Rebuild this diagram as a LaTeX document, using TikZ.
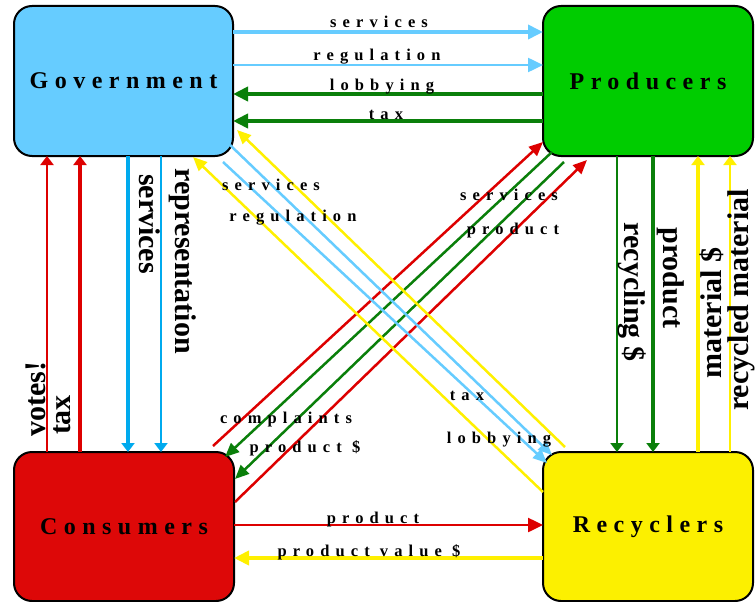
\documentclass[tikz,border=0pt]{standalone}
\usepackage{fontspec}
\setmainfont{Liberation Serif}
\newfontfamily\spacedsmall[LetterSpace=37]{Liberation Serif}
\newfontfamily\spacedbig[LetterSpace=27]{Liberation Serif}
\usetikzlibrary{arrows.meta}
\definecolor{govfill}{HTML}{66CCFF}
\definecolor{prodfill}{HTML}{00CC00}
\definecolor{consfill}{HTML}{DD0808}
\definecolor{recfill}{HTML}{FCF000}
\definecolor{lblue}{HTML}{66CCFF}
\definecolor{dblue}{HTML}{00AAEE}
\definecolor{dgreen}{HTML}{0A7F0A}
\definecolor{cred}{HTML}{DD0000}
\definecolor{cyellow}{HTML}{FFF000}
\tikzset{
  box/.style={draw=black, line width=2pt, rounded corners=18pt, inner sep=0pt, outer sep=0pt,
    font=\spacedbig\bfseries\fontsize{24}{28}\selectfont},
  lbl/.style={inner sep=0pt, anchor=base, font=\spacedsmall\bfseries\fontsize{16.5}{20}\selectfont},
  vlbl/.style={inner sep=0pt, font=\bfseries\fontsize{30}{34}\selectfont},
  fat/.style={line width=4pt},
  slim/.style={line width=2.5pt},
  diag/.style={line width=2.5pt},
  htip/.style={-{Triangle[length=15pt,width=14pt]}},
  vtip/.style={-{Triangle[length=9pt,width=13pt]}},
  dtip/.style={-{Triangle[length=14pt,width=12pt]}},
}
\begin{document}
\begin{tikzpicture}[x=1pt,y=-1pt]
\useasboundingbox (0,0) rectangle (755,602);
% boxes
\node[box, fill=govfill, minimum width=219pt, minimum height=150pt] (gov) at (123.5,81) {Government};
\node[box, fill=prodfill, minimum width=210pt, minimum height=150pt] (prod) at (648,81) {Producers};
\node[box, fill=consfill, minimum width=220pt, minimum height=149pt] (cons) at (124,526.5) {Consumers};
\node[box, fill=recfill, minimum width=210pt, minimum height=149pt] (rec) at (648,526.5) {Recyclers};

% top: government <-> producers
\draw[lblue, fat, htip] (gov.east |- 0,32) -- (prod.west |- 0,32);
\draw[lblue, slim, htip] (gov.east |- 0,65) -- (prod.west |- 0,65);
\draw[dgreen, fat, htip] (prod.west |- 0,94) -- (gov.east |- 0,94);
\draw[dgreen, fat, htip] (prod.west |- 0,121) -- (gov.east |- 0,121);
\node[lbl] (tl1) at (379,28) {services};
\node[lbl] (tl2) at (377,60.5) {regulation};
\node[lbl] (tl3) at (382,90) {lobbying};
\node[lbl] (tl4) at (386,119) {tax};

% left: consumers <-> government
\draw[cred, slim, vtip] (47,0 |- cons.north) -- (47,0 |- gov.south);
\draw[cred, fat, vtip] (80,0 |- cons.north) -- (80,0 |- gov.south);
\draw[dblue, fat, vtip] (128,0 |- gov.south) -- (128,0 |- cons.north);
\draw[dblue, slim, vtip] (161,0 |- gov.south) -- (161,0 |- cons.north);
\node[vlbl, rotate=90] (ll1) at (36,399) {votes!};
\node[vlbl, rotate=90] (ll2) at (62,415) {tax};
\node[vlbl, rotate=-90] (ll3) at (150,224) {services};
\node[vlbl, rotate=-90] (ll4) at (183,261) {representation};

% right: producers <-> recyclers
\draw[dgreen, slim, vtip] (617,0 |- prod.south) -- (617,0 |- rec.north);
\draw[dgreen, fat, vtip] (653,0 |- prod.south) -- (653,0 |- rec.north);
\draw[cyellow, fat, vtip] (698,0 |- rec.north) -- (698,0 |- prod.south);
\draw[cyellow, slim, vtip] (730,0 |- rec.north) -- (730,0 |- prod.south);
\node[vlbl, rotate=-90] (rl1) at (632,292) {recycling \$};
\node[vlbl, rotate=-90] (rl2) at (671,278) {product};
\node[vlbl, rotate=90] (rl3) at (712,313) {material \$};
\node[vlbl, rotate=90] (rl4) at (741,300) {recycled material};

% bottom: consumers <-> recyclers
\draw[cred, slim, htip] (cons.east |- 0,525) -- (rec.west |- 0,525);
\draw[cyellow, fat, htip] (rec.west |- 0,558) -- (cons.east |- 0,558);
\node[lbl] (bl1) at (373,523) {product};
\node[lbl] (bl2) at (369,556) {product value \$};

% diagonals: consumers <-> producers
\draw[cred, diag, dtip] ([shift={(-21,-6)}]cons.north east) -- ([shift={(0,-14)}]prod.south west);
\draw[dgreen, diag, dtip] ([shift={(9,-4)}]prod.south west) -- ([shift={(-9,5)}]cons.north east);
\draw[dgreen, diag, dtip] ([shift={(21,6)}]prod.south west) -- ([shift={(1,27)}]cons.north east);
\draw[cred, diag, dtip] ([shift={(1,50)}]cons.north east) -- ([shift={(44,4)}]prod.south west);
\node[lbl] (dl1) at (509,200) {services};
\node[lbl] (dl2) at (513,234) {product};
\node[lbl] (dl3) at (286,423) {complaints};
\node[lbl] (dl4) at (305,452) {product \$};

% diagonals: government <-> recyclers
\draw[cyellow, diag, dtip] ([shift={(22,-5)}]rec.north west) -- ([shift={(4,-26)}]gov.south east);
\draw[lblue, diag, dtip] ([shift={(-3,-11)}]gov.south east) -- ([shift={(9,3)}]rec.north west);
\draw[lblue, diag, dtip] ([shift={(-10,6)}]gov.south east) -- ([shift={(4,11)}]rec.north west);
\draw[cyellow, diag, dtip] ([shift={(0,40)}]rec.north west) -- ([shift={(-40,1)}]gov.south east);
\node[lbl] (gl1) at (271,190) {services};
\node[lbl] (gl2) at (293,221) {regulation};
\node[lbl] (gl3) at (467,400) {tax};
\node[lbl] (gl4) at (499,443) {lobbying};
\end{tikzpicture}
\end{document}
